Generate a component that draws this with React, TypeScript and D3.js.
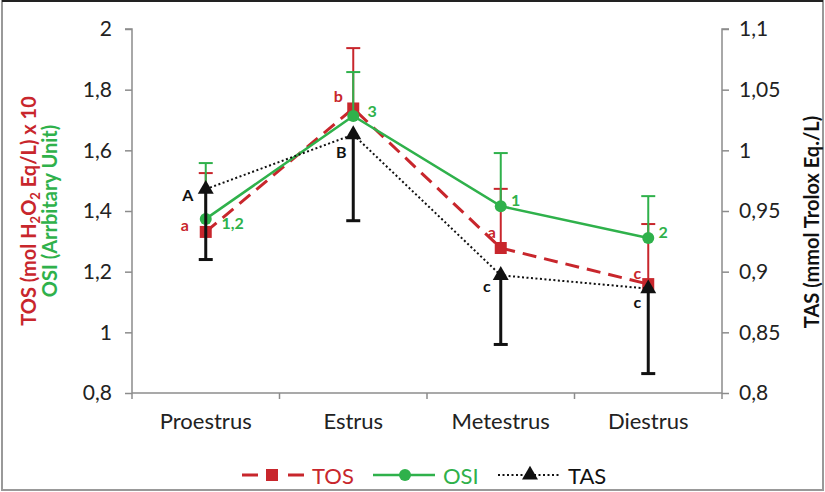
import React, { useRef, useEffect } from 'react';
import * as d3 from 'd3';

// data
const categories = ['Proestrus', 'Estrus', 'Metestrus', 'Diestrus'];
const tosValues = [1.331, 1.738, 1.278, 1.159];
const tosErrors = [0.194, 0.199, 0.195, 0.198];
const osiValues = [1.374, 1.713, 1.416, 1.311];
const osiErrors = [0.184, 0.145, 0.175, 0.138];
const tasValues = [0.968, 1.013, 0.897, 0.886];
const tasErrors = [0.058, 0.071, 0.057, 0.070];
const tosLetters = ['a', 'b', 'a', 'c'];
const osiLetters = ['1,2', '3', '1', '2'];
const tasLetters = ['A', 'B', 'c', 'c'];
const leftTicks = [0.8, 1, 1.2, 1.4, 1.6, 1.8, 2];
const rightTicks = [0.8, 0.85, 0.9, 0.95, 1, 1.05, 1.1];

// label offsets next to the markers
const tosLabelOffset = [[-21, -7], [-15, -13], [-9, -17], [-11, -12]];
const osiLabelOffset = [[27, 4], [19, -6], [15, -7], [15, -6]];
const tasLabelOffset = [[-18, 5], [-12, 17], [-14, 10], [-11, 13]];

const RED = '#c8262c';
const GREEN = '#2fb14b';
const AXIS = '#8c8c8c';
const FONT = 'Lato, "Open Sans", sans-serif';

const fmt = (v: number) => String(+v.toFixed(2)).replace('.', ',');

const Chart = () => {
  const ref = useRef<SVGSVGElement | null>(null);

  useEffect(() => {
    const width = 825;
    const height = 492;
    const left = 132, right = 722, top = 29, bottom = 393;

    const svg = d3.select(ref.current);
    svg.selectAll('*').remove();

    // frame
    svg.append('rect').attr('x', 2).attr('y', 1).attr('width', width - 4).attr('height', height - 3)
      .attr('fill', 'white').attr('stroke', '#999').attr('stroke-width', 2);
    svg.append('line').attr('x1', 2).attr('x2', width - 2).attr('y1', 1).attr('y2', 1)
      .attr('stroke', '#222').attr('stroke-width', 2);

    const x = d3.scaleBand().domain(categories).range([left, right]);
    const cx = (c: string) => (x(c) as number) + x.bandwidth() / 2;
    const yL = d3.scaleLinear().domain([0.8, 2]).range([bottom, top]);
    const yR = d3.scaleLinear().domain([0.8, 1.1]).range([bottom, top]);

    // axes
    const gl = svg.append('g').attr('transform', `translate(${left},0)`)
      .call(d3.axisLeft(yL).tickValues(leftTicks).tickFormat((d) => fmt(+d)).tickSize(7).tickPadding(13));
    const gr = svg.append('g').attr('transform', `translate(${right},0)`)
      .call(d3.axisRight(yR).tickValues(rightTicks).tickFormat((d) => fmt(+d)).tickSize(7).tickPadding(10));
    const gx = svg.append('g').attr('transform', `translate(0,${bottom})`)
      .call(d3.axisBottom(x).tickSize(0).tickPadding(20));
    [gl, gr, gx].forEach((g) => {
      g.select('.domain').attr('stroke', AXIS).attr('stroke-width', 1.5);
      g.selectAll('.tick line').attr('stroke', AXIS).attr('stroke-width', 1.5);
      g.selectAll('text').attr('fill', '#222').style('font-family', FONT).style('font-size', '21px');
    });
    gx.selectAll('text').style('font-size', '22px');
    gl.select('.domain').attr('d', `M-7,${top}H0V${bottom}`);
    gr.select('.domain').attr('d', `M7,${top}H0V${bottom}`);
    gx.select('.domain').attr('d', `M${left},0H${right}`);
    // category boundary ticks
    const bounds = categories.map((c) => x(c) as number).concat([right]);
    svg.append('g').selectAll('line').data(bounds).enter().append('line')
      .attr('x1', (d) => d).attr('x2', (d) => d).attr('y1', bottom).attr('y2', bottom + 6)
      .attr('stroke', AXIS).attr('stroke-width', 1.5);

    // axis titles
    const lt = svg.append('text').attr('transform', 'translate(36,211) rotate(-90)')
      .attr('text-anchor', 'middle').style('font-family', FONT).style('font-size', '20px')
      .style('font-weight', 'bold').attr('fill', RED);
    lt.append('tspan').text('TOS (mol H');
    lt.append('tspan').text('2').style('font-size', '13px').attr('dy', 4);
    lt.append('tspan').text('O').attr('dy', -4);
    lt.append('tspan').text('2').style('font-size', '13px').attr('dy', 4);
    lt.append('tspan').text(' Eq/L) x 10').attr('dy', -4);
    svg.append('text').attr('transform', 'translate(57,211) rotate(-90)')
      .attr('text-anchor', 'middle').style('font-family', FONT).style('font-size', '20px')
      .style('font-weight', 'bold').attr('fill', GREEN).text('OSI (Arrbitary Unit)');
    svg.append('text').attr('transform', 'translate(811,222) rotate(-90)')
      .attr('text-anchor', 'middle').attr('dominant-baseline', 'central')
      .style('font-family', FONT).style('font-size', '20px')
      .style('font-weight', 'bold').attr('fill', '#111').text('TAS (mmol Trolox Eq./L)');

    const plot = svg.append('g');

    // error bars
    const errBars = (vals: number[], errs: number[], y: any, sign: number, color: string, w: number) => {
      const g = plot.append('g');
      categories.forEach((c, i) => {
        const y0 = y(vals[i]);
        const y1 = y(vals[i] + sign * errs[i]);
        g.append('line').attr('x1', cx(c)).attr('x2', cx(c)).attr('y1', y0).attr('y2', y1)
          .attr('stroke', color).attr('stroke-width', w);
        g.append('line').attr('x1', cx(c) - 7).attr('x2', cx(c) + 7).attr('y1', y1).attr('y2', y1)
          .attr('stroke', color).attr('stroke-width', w);
      });
    };

    // TOS
    errBars(tosValues, tosErrors, yL, 1, RED, 2);
    const lineL = d3.line<number>().x((d, i) => cx(categories[i])).y((d) => yL(d));
    const lineR = d3.line<number>().x((d, i) => cx(categories[i])).y((d) => yR(d));
    plot.append('path').attr('d', lineL(tosValues)).attr('fill', 'none').attr('stroke', RED)
      .attr('stroke-width', 3).attr('stroke-dasharray', '14,8');
    plot.append('g').selectAll('rect').data(tosValues).enter().append('rect')
      .attr('x', (d, i) => cx(categories[i]) - 6).attr('y', (d) => yL(d) - 6)
      .attr('width', 12).attr('height', 12).attr('fill', RED);

    // OSI
    errBars(osiValues, osiErrors, yL, 1, GREEN, 2);
    plot.append('path').attr('d', lineL(osiValues)).attr('fill', 'none').attr('stroke', GREEN)
      .attr('stroke-width', 2.5);
    plot.append('g').selectAll('circle').data(osiValues).enter().append('circle')
      .attr('cx', (d, i) => cx(categories[i])).attr('cy', (d) => yL(d)).attr('r', 6).attr('fill', GREEN);

    // TAS
    errBars(tasValues, tasErrors, yR, -1, '#111', 3);
    plot.append('path').attr('d', lineR(tasValues)).attr('fill', 'none').attr('stroke', '#111')
      .attr('stroke-width', 2).attr('stroke-dasharray', '2,2.5');
    const tri = d3.symbol().type(d3.symbolTriangle).size(110);
    plot.append('g').selectAll('path').data(tasValues).enter().append('path')
      .attr('d', tri).attr('transform', (d, i) => `translate(${cx(categories[i])},${yR(d)})`)
      .attr('fill', '#111');

    // significance letters
    const letters = (labels: string[], vals: number[], y: any, off: number[][], color: string) => {
      plot.append('g').selectAll('text').data(labels).enter().append('text')
        .attr('x', (d, i) => cx(categories[i]) + off[i][0]).attr('y', (d, i) => y(vals[i]) + off[i][1])
        .attr('text-anchor', 'middle').attr('dominant-baseline', 'central')
        .style('font-family', FONT).style('font-size', '16px').style('font-weight', 'bold')
        .attr('fill', color).text((d) => d);
    };
    letters(tosLetters, tosValues, yL, tosLabelOffset, RED);
    letters(osiLetters, osiValues, yL, osiLabelOffset, GREEN);
    letters(tasLetters, tasValues, yR, tasLabelOffset, '#111');

    // legend
    const lg = svg.append('g').attr('transform', 'translate(0,475)');
    lg.append('line').attr('x1', 242).attr('x2', 304).attr('stroke', RED).attr('stroke-width', 3)
      .attr('stroke-dasharray', '16,10,10,10,16');
    lg.append('rect').attr('x', 266).attr('y', -6).attr('width', 12).attr('height', 12).attr('fill', RED);
    lg.append('line').attr('x1', 373).attr('x2', 435).attr('stroke', GREEN).attr('stroke-width', 2.5);
    lg.append('circle').attr('cx', 405).attr('r', 6).attr('fill', GREEN);
    lg.append('line').attr('x1', 498).attr('x2', 560).attr('stroke', '#111').attr('stroke-width', 2)
      .attr('stroke-dasharray', '2,2.5');
    lg.append('path').attr('d', tri).attr('transform', 'translate(530,0)').attr('fill', '#111');
    const legendText = [['TOS', 312, RED], ['OSI', 443, GREEN], ['TAS', 568, '#111']];
    legendText.forEach(([t, lx, col]) => {
      lg.append('text').attr('x', lx as number).attr('y', 0).attr('dominant-baseline', 'central')
        .style('font-family', FONT).style('font-size', '22px').attr('fill', col as string).text(t as string);
    });
  }, []);

  return <svg ref={ref} width={825} height={492} style={{ position: 'absolute', left: 0, top: 0 }} />;
};

export default function App() {
  return <Chart />;
}
